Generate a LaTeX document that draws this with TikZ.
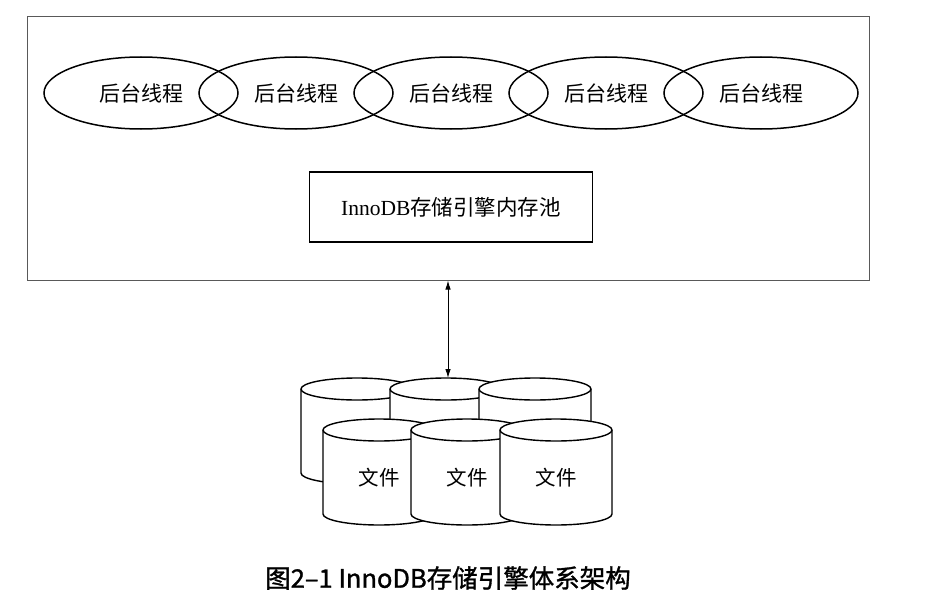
\documentclass[tikz,border=0pt]{standalone}
\usepackage{fontspec}
\setmainfont{Liberation Serif}
\newfontfamily\cjk{Noto Sans CJK SC}
\newfontfamily\capcjk[FakeBold=1.2]{Noto Sans CJK SC}
\usetikzlibrary{arrows.meta,positioning,shapes.geometric}
\tikzset{%
	frame/.style   = {draw=black!65, line width=1pt, rectangle, minimum width=842pt, minimum height=263pt, inner sep=0pt}, % engine
	thread/.style  = {draw, ellipse, line width=1.5pt, minimum width=194pt, minimum height=72pt, font=\cjk\fontsize{21pt}{24pt}\selectfont},
	pool/.style    = {draw, rectangle, line width=1.8pt, minimum width=283pt, minimum height=70pt, font=\fontsize{21.5pt}{24pt}\selectfont},
	file/.style    = {font=\cjk\fontsize{20.5pt}{24pt}\selectfont},
	caption/.style = {font=\capcjk\fontsize{25.5pt}{28pt}\selectfont},
	disk line/.style = {draw, fill=white, line width=1.4pt},
	disk/.pic = {
		\path[disk line] (-56,42) -- (-56,-42) arc[start angle=180,end angle=360,x radius=56,y radius=11]
			-- (56,42) arc[start angle=0,end angle=180,x radius=56,y radius=11] -- cycle;
		\draw[disk line, fill=none] (-56,42) arc[start angle=180,end angle=360,x radius=56,y radius=11];
		\coordinate (-top) at (0,53);
	},
}

\begin{document}
\begin{tikzpicture}[x=1pt,y=1pt,node distance=155pt]
	\useasboundingbox (0,0) rectangle (943,-610);
	% engine frame
	\node [frame] (engine) at (448,-148.5) {};
	\node [thread] (t1) at (141,-93) {后台线程};
	\node [thread] (t2) [right of=t1] {后台线程};
	\node [thread] (t3) [right of=t2] {后台线程};
	\node [thread] (t4) [right of=t3] {后台线程};
	\node [thread] (t5) [right of=t4] {后台线程};
	\node [pool] (pool) at (451,-207) {InnoDB{\cjk 存储引擎内存池}};
	
	% files
	\pic (b1) at (357,-431) {disk};
	\pic (b2) at (446,-431) {disk};
	\pic (b3) at (535,-431) {disk};
	\pic (f1) at (379,-472) {disk};
	\pic (f2) at (467,-472) {disk};
	\pic (f3) at (556,-472) {disk};
	\node [file] (w1) at (379,-478) {文件};
	\node [file] (w2) at (467,-478) {文件};
	\node [file] (w3) at (556,-478) {文件};
	
	\draw[{Latex[length=9pt,width=5.5pt]}-{Latex[length=9pt,width=5.5pt]}, line width=0.9pt] (engine.south) -- (engine.south |- b2-top);
	
	\node [caption] (cap) at (448,-578) {图2–1 InnoDB存储引擎体系架构};
\end{tikzpicture}
\end{document}
